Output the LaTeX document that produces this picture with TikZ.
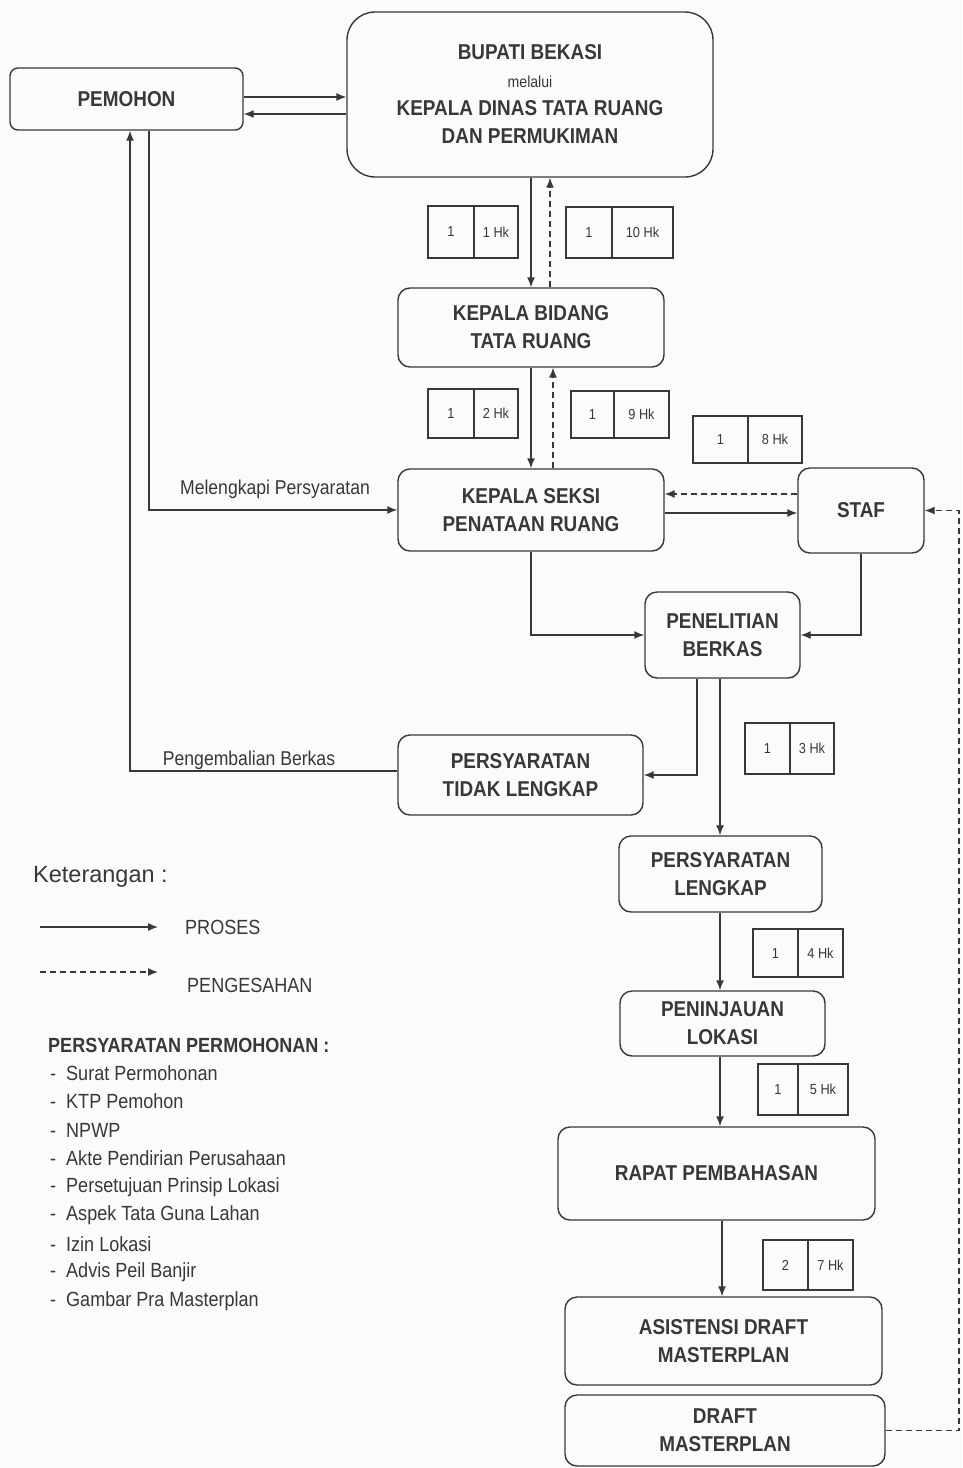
\documentclass[tikz,border=0pt]{standalone}
\usepackage{fontspec}
\setmainfont{Liberation Sans}[FakeStretch=0.88]
\newfontfamily\widesans{Liberation Sans}
\usetikzlibrary{arrows.meta}
\definecolor{ink}{HTML}{383838}
\definecolor{paper}{HTML}{FBFBFA}

% two-cell duration box: name, x-left, x-divider, x-right, y-top, y-bottom, left text, right text
\newcommand\hkbox[8]{%
  \node[cell, minimum width={#3-#2}, minimum height={#6-#5}] (#1a) at ({(#2+#3)/2},{(#5+#6)/2}) {#7};
  \node[cell, minimum width={#4-#3}, minimum height={#6-#5}] (#1b) at ({(#3+#4)/2},{(#5+#6)/2}) {#8};}

\begin{document}
\begin{tikzpicture}[x=1pt,y=-1pt,
  blk/.style={draw=ink, line width=1.4pt, rounded corners=12pt, align=center,
    font=\bfseries\fontsize{21.5}{28}\selectfont, text=ink, inner sep=0pt},
  bigblk/.style={blk, rounded corners=28pt},
  cell/.style={draw=ink, line width=1.3pt, inner sep=0pt,
    font=\fontsize{14.5}{16}\selectfont, text=ink},
  arr/.style={draw=ink, line width=1.4pt, -{Latex[length=10pt,width=8pt]}},
  darr/.style={arr, dash pattern=on 6pt off 4pt},
  lbl/.style={font=\fontsize{20}{22}\selectfont, text=ink, inner sep=0pt},
  item/.style={font=\fontsize{20.5}{24}\selectfont, text=ink, inner sep=0pt, anchor=west}]

\useasboundingbox (0,0) rectangle (962,1468);
\fill[paper] (0,0) rectangle (962,1468);

% main flow boxes
\node[blk, minimum width=233, minimum height=62, rounded corners=8pt] (pem) at (126.5,99) {PEMOHON};
\node[bigblk, minimum width=366, minimum height=165] (bup) at (530,94.5)
  {BUPATI BEKASI\\{\mdseries\fontsize{16}{28}\selectfont melalui}\\KEPALA DINAS TATA RUANG\\DAN PERMUKIMAN};
\node[blk, minimum width=266, minimum height=79] (kbid) at (531,327.5) {KEPALA BIDANG\\TATA RUANG};
\node[blk, minimum width=266, minimum height=82] (kseksi) at (531,510) {KEPALA SEKSI\\PENATAAN RUANG};
\node[blk, minimum width=126, minimum height=85] (staf) at (861,510.5) {STAF};
\node[blk, minimum width=155, minimum height=86] (pen) at (722.5,635) {PENELITIAN\\BERKAS};
\node[blk, minimum width=245, minimum height=80] (tidak) at (520.5,775) {PERSYARATAN\\TIDAK LENGKAP};
\node[blk, minimum width=203, minimum height=76] (lengkap) at (720.5,874) {PERSYARATAN\\LENGKAP};
\node[blk, minimum width=205, minimum height=65] (tinjau) at (722.5,1023.5) {PENINJAUAN\\LOKASI};
\node[blk, minimum width=317, minimum height=93] (rapat) at (716.5,1173.5) {RAPAT PEMBAHASAN};
\node[blk, minimum width=317, minimum height=88] (asis) at (723.5,1341) {ASISTENSI DRAFT\\MASTERPLAN};
\node[blk, minimum width=320, minimum height=71] (draft) at (725,1430.5) {DRAFT\\MASTERPLAN};

% durations
\hkbox{d1}{428}{474}{518}{206}{258}{1}{1 Hk}
\hkbox{d10}{566}{612}{673}{207}{258}{1}{10 Hk}
\hkbox{d2}{428}{474}{518}{389}{438}{1}{2 Hk}
\hkbox{d9}{571}{614}{669}{391}{438}{1}{9 Hk}
\hkbox{d8}{693}{748}{802}{416}{463}{1}{8 Hk}
\hkbox{d3}{745}{790}{834}{723}{774}{1}{3 Hk}
\hkbox{d4}{753}{798}{843}{929}{977}{1}{4 Hk}
\hkbox{d5}{758}{798}{848}{1064}{1115}{1}{5 Hk}
\hkbox{d7}{763}{808}{853}{1240}{1290}{2}{7 Hk}

% connectors
\draw[arr] (pem.east |- 0,97) -- (bup.west |- 0,97);
\draw[arr] (bup.west |- 0,114) -- (pem.east |- 0,114);
\draw[arr] (bup.south -| 531,0) -- (kbid.north -| 531,0);
\draw[darr] (kbid.north -| 550,0) -- (bup.south -| 550,0);
\draw[arr] (kbid.south -| 531,0) -- (kseksi.north -| 531,0);
\draw[darr] (kseksi.north -| 553,0) -- (kbid.south -| 553,0);
\draw[arr] (kseksi.east |- 0,513) -- (staf.west |- 0,513);
\draw[darr] (staf.west |- 0,494) -- (kseksi.east |- 0,494);
\draw[arr] (kseksi.south) |- (pen.west);
\draw[arr] (staf.south) |- (pen.east);
\draw[arr] (pen.south -| 697,0) |- (tidak.east);
\draw[arr] (pen.south -| 720,0) -- (lengkap.north -| 720,0);
\draw[arr] (lengkap.south -| 720,0) -- (tinjau.north -| 720,0);
\draw[arr] (tinjau.south -| 720,0) -- (rapat.north -| 720,0);
\draw[arr] (rapat.south -| 722,0) -- (asis.north -| 722,0);
\draw[arr] (pem.south -| 149,0) |- (kseksi.west);
\draw[arr] (tidak.west |- 0,771) -| (pem.south -| 130,0);
\coordinate (rt) at (959,510.5);
\draw[darr] (draft.east) -| (rt) -- (staf.east);

\node[lbl] (lk) at (275,489) {Melengkapi Persyaratan};
\node[lbl] (pb) at (249,760) {Pengembalian Berkas};

% legend
\node[font=\widesans\fontsize{23.5}{26}\selectfont, text=ink, anchor=west, inner sep=0pt] (ket) at (33,877) {Keterangan :};
\coordinate (ls1) at (40,927); \coordinate (le1) at (158,927);
\coordinate (ls2) at (40,972); \coordinate (le2) at (158,972);
\draw[arr] (ls1) -- (le1);
\draw[darr] (ls2) -- (le2);
\node[item] (proses) at (185,927) {PROSES};
\node[item] (sah) at (187,985) {PENGESAHAN};
\node[item, font=\bfseries\fontsize{20.5}{24}\selectfont] (req) at (48,1045) {PERSYARATAN PERMOHONAN :};
\foreach \t [count=\i from 0] in {Surat Permohonan, KTP Pemohon, NPWP, Akte Pendirian Perusahaan,
  Persetujuan Prinsip Lokasi, Aspek Tata Guna Lahan, Izin Lokasi, Advis Peil Banjir, Gambar Pra Masterplan}{
  \node[item] (r\i) at (50,{1073+28.5*\i}) {-\hspace{10pt}\t};
}
\end{tikzpicture}
\end{document}
